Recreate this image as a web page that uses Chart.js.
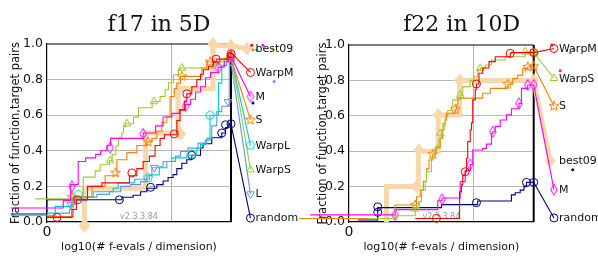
<!DOCTYPE html>
<html>
<head>
<meta charset="utf-8">
<script src="https://cdn.jsdelivr.net/npm/chart.js@4.4.1/dist/chart.umd.min.js"></script>
<style>
  html, body { margin: 0; padding: 0; background: #fff; }
  #wrap { position: relative; width: 598px; height: 256px; overflow: hidden; }
  canvas { position: absolute; top: 0; }
  #c17 { left: 0; }
  #c22 { left: 299px; }
</style>
</head>
<body>
<div id="wrap">
  <canvas id="c17" width="299" height="256" style="width:299px;height:256px"></canvas>
  <canvas id="c22" width="299" height="256" style="width:299px;height:256px"></canvas>
</div>
<script>
// ---------- f17 in 5D : ECDF steps [log10(evals/dim), fraction] ----------
const f17Best09 = [[0.30,-0.02],[0.30,0.19],[0.79,0.50],[1.05,0.75],[1.33,0.99],[1.474,0.99]];
const f17Best09Marks = [[0.30,-0.02],[1.07,0.495],[1.05,0.74],[1.33,1.0],[1.474,0.99]];

const f17WarpM = [[0,0.026],[0.20,0.07],[0.235,0.125],[0.325,0.20],[0.44,0.22],[0.66,0.26],[0.72,0.30],[0.77,0.34],
  [0.82,0.37],[0.866,0.43],[0.906,0.47],[0.94,0.49],[1.04,0.57],[1.066,0.63],[1.10,0.68],[1.12,0.72],[1.16,0.76],
  [1.20,0.80],[1.23,0.83],[1.253,0.855],[1.293,0.875],[1.333,0.90],[1.36,0.915],[1.45,0.95],[1.474,0.95]];
const f17WarpMMarks = [[0.08,0.026],[0.245,0.125],[0.68,0.276],[1.02,0.495],[1.12,0.72],[1.355,0.915],[1.474,0.945]];

const f17M = [[-0.29,0.079],[0.13,0.12],[0.19,0.21],[0.25,0.34],[0.31,0.36],[0.39,0.38],[0.43,0.40],[0.48,0.43],
  [0.51,0.47],[0.77,0.50],[0.87,0.54],[0.93,0.59],[1.0,0.61],[1.06,0.63],[1.11,0.66],[1.15,0.69],[1.19,0.73],
  [1.23,0.76],[1.27,0.81],[1.31,0.84],[1.37,0.87],[1.42,0.90],[1.45,0.93],[1.474,0.93]];
const f17MMarks = [[0.20,0.20],[0.506,0.418],[0.77,0.495],[1.11,0.65],[1.373,0.865],[1.474,0.93]];

const f17S = [[0,0.03],[0.21,0.14],[0.36,0.20],[0.466,0.26],[0.56,0.35],[0.64,0.39],[0.72,0.43],[0.80,0.45],
  [0.84,0.47],[0.88,0.51],[0.92,0.56],[0.96,0.59],[0.986,0.705],[1.02,0.75],[1.04,0.78],[1.07,0.818],[1.24,0.865],
  [1.28,0.90],[1.42,0.92],[1.474,0.92]];
const f17SMarks = [[0.20,0.14],[0.55,0.276],[0.81,0.45],[1.08,0.818],[1.306,0.90],[1.474,0.92]];

const f17WarpL = [[-0.29,0.038],[0.066,0.088],[0.20,0.14],[0.37,0.17],[0.53,0.19],[0.57,0.22],[0.70,0.24],
  [0.82,0.265],[0.90,0.31],[0.93,0.34],[1.0,0.36],[1.12,0.375],[1.20,0.415],[1.23,0.435],[1.27,0.46],[1.306,0.60],
  [1.373,0.78],[1.40,0.88],[1.44,0.93],[1.474,0.93]];
const f17WarpLMarks = [[0.25,0.155],[0.81,0.248],[1.16,0.381],[1.306,0.60],[1.474,0.93]];

const f17WarpS = [[-0.29,0.026],[-0.094,0.13],[0.29,0.252],[0.386,0.287],[0.426,0.322],[0.50,0.345],[0.522,0.379],
  [0.552,0.428],[0.573,0.473],[0.60,0.50],[0.613,0.536],[0.63,0.552],[0.693,0.589],[0.733,0.642],[0.842,0.677],
  [0.906,0.705],[0.946,0.743],[0.973,0.782],[1.013,0.827],[1.053,0.855],[1.067,0.865],[1.33,0.883],[1.386,0.912],
  [1.44,0.94],[1.474,0.94]];
const f17WarpSMarks = [[0.506,0.345],[0.64,0.552],[0.858,0.677],[1.08,0.865],[1.474,0.94]];

const f17L = [[0,0.05],[0.18,0.07],[0.19,0.10],[0.24,0.12],[0.32,0.14],[0.40,0.155],[0.50,0.17],[0.59,0.20],
  [0.67,0.21],[0.75,0.227],[0.80,0.26],[0.84,0.305],[0.96,0.34],[1.03,0.37],[1.07,0.396],[1.13,0.415],[1.21,0.443],
  [1.28,0.47],[1.32,0.54],[1.36,0.62],[1.40,0.65],[1.46,0.90],[1.474,0.90]];
const f17LMarks = [[0.19,0.096],[0.86,0.305],[1.45,0.675],[1.474,0.90]];

const f17Random = [[-0.29,0.045],[0,0.125],[0.60,0.139],[0.69,0.15],[0.75,0.17],[0.80,0.19],[0.88,0.21],[0.93,0.23],
  [0.97,0.25],[1.01,0.266],[1.04,0.30],[1.08,0.33],[1.12,0.35],[1.16,0.375],[1.23,0.416],[1.25,0.44],[1.32,0.473],
  [1.40,0.50],[1.43,0.53],[1.45,0.55],[1.474,0.55]];
const f17RandomMarks = [[0.58,0.125],[0.83,0.195],[1.16,0.375],[1.40,0.50],[1.43,0.546],[1.474,0.552]];

const f17Names = ['best09', 'WarpM', 'M', 'S', 'WarpL', 'WarpS', 'L', 'random'];
const f17LabelY = [0.974, 0.840, 0.705, 0.574, 0.431, 0.294, 0.157, 0.022];
const f17Dots = [[1.64,0.993],[1.73,0.993],[1.65,0.968],[1.68,0.968],[1.81,0.972],[1.82,0.79],[1.65,0.668]];
const f17DotOf = ['WarpM', 'M', 'S', 'WarpL', 'WarpS', 'L', 'random'];

// ---------- f22 in 10D ----------
const f22Best09 = [[0.30,0],[0.30,0.20],[0.555,0.40],[0.714,0.605],[0.886,0.80],[1.478,0.80]];
const f22Best09Marks = [[0.54,0.20],[0.56,0.405],[0.714,0.605],[0.886,0.80],[1.478,0.80]];

const f22WarpM = [[0.53,0.02],[0.885,0.17],[0.90,0.21],[0.91,0.265],[0.93,0.284],[0.94,0.36],[0.95,0.454],
  [0.97,0.52],[0.98,0.56],[0.99,0.69],[1.01,0.75],[1.02,0.78],[1.04,0.84],[1.07,0.87],[1.12,0.906],[1.17,0.934],
  [1.29,0.953],[1.30,0.957],[1.478,0.957]];
const f22WarpMMarks = [[0.70,0.021],[0.93,0.284],[1.02,0.78],[1.29,0.953],[1.478,0.957]];

const f22WarpS = [[0.15,0.02],[0.37,0.035],[0.53,0.08],[0.56,0.115],[0.58,0.18],[0.61,0.228],[0.62,0.284],
  [0.66,0.36],[0.69,0.397],[0.70,0.43],[0.72,0.47],[0.74,0.52],[0.75,0.557],[0.77,0.595],[0.79,0.63],[0.82,0.65],
  [0.83,0.69],[0.89,0.717],[0.91,0.765],[0.97,0.80],[1.00,0.82],[1.03,0.86],[1.05,0.868],[1.09,0.887],[1.14,0.915],
  [1.25,0.934],[1.41,0.962],[1.478,0.957]];
const f22WarpSMarks = [[0.53,0.075],[0.73,0.50],[0.89,0.717],[1.05,0.868],[1.41,0.962],[1.478,0.957]];

const f22S = [[-0.4,0.02],[0.37,0.096],[0.54,0.143],[0.57,0.18],[0.595,0.23],[0.62,0.30],[0.64,0.35],[0.67,0.383],
  [0.69,0.42],[0.73,0.473],[0.75,0.52],[0.76,0.548],[0.77,0.576],[0.78,0.614],[0.85,0.637],[0.86,0.66],[0.87,0.70],
  [1.07,0.727],[1.13,0.755],[1.27,0.778],[1.31,0.81],[1.35,0.83],[1.39,0.868],[1.43,0.876],[1.45,0.88],[1.478,0.88]];
const f22SMarks = [[0.53,0.096],[0.67,0.383],[0.85,0.637],[1.27,0.778],[1.43,0.876],[1.478,0.88]];

const f22M = [[-0.31,0.04],[0.37,0.07],[0.71,0.12],[0.745,0.136],[0.89,0.228],[0.93,0.29],[0.97,0.325],[0.99,0.407],
  [1.07,0.416],[1.10,0.44],[1.14,0.50],[1.15,0.51],[1.17,0.54],[1.21,0.576],[1.26,0.605],[1.30,0.64],[1.36,0.67],
  [1.38,0.755],[1.43,0.774],[1.478,0.775]];
const f22MMarks = [[0.37,0.04],[0.745,0.128],[0.97,0.325],[1.15,0.51],[1.36,0.67],[1.43,0.774],[1.478,0.775]];

const f22Random = [[0.07,0.011],[0.23,0.081],[0.74,0.098],[1.03,0.119],[1.30,0.153],[1.33,0.165],[1.37,0.18],
  [1.40,0.20],[1.42,0.224],[1.478,0.224]];
const f22RandomMarks = [[0.23,0.086],[0.23,0.055],[1.02,0.109],[1.42,0.224],[1.478,0.224]];

const f22Names = ['WarpM', 'WarpS', 'S', 'best09', 'M', 'random'];
const f22LabelY = [0.98, 0.812, 0.655, 0.345, 0.183, 0.023];
const f22Dots = [[1.624,1.0],[1.80,0.975],[1.77,0.956],[1.69,0.855],[1.79,0.295]];
const f22DotOf = ['WarpM', 'S', 'L', 'M', 'random'];

// ---------- styles ----------
const colors = {
  best09: '#f7d8ab', WarpM: '#ff0000', M: '#ff00ff', S: '#ff8000',
  WarpL: '#00cdd0', WarpS: '#9acd32', L: '#6495ed', random: '#000080'
};
const shapes = {
  best09: 'fatDiamond', WarpM: 'circle', M: 'thinDiamond', S: 'star5',
  WarpL: 'pentagon', WarpS: 'triangle', L: 'invTriangle', random: 'circle'
};

// markers the library has no built-in shape for
function markerImage(kind, color) {
  const c = document.createElement('canvas');
  c.width = 16; c.height = 16;
  const g = c.getContext('2d');
  const cx = 8, cy = 8;
  g.strokeStyle = color; g.fillStyle = color; g.lineWidth = 1;
  g.beginPath();
  if (kind === 'star5') {
    for (let i = 0; i < 10; i++) {
      const r = i % 2 ? 2.2 : 5.2;
      const a = -Math.PI / 2 + i * Math.PI / 5;
      const px = cx + r * Math.cos(a), py = cy + r * Math.sin(a);
      i ? g.lineTo(px, py) : g.moveTo(px, py);
    }
  } else if (kind === 'pentagon') {
    for (let i = 0; i < 5; i++) {
      const a = -Math.PI / 2 + i * 2 * Math.PI / 5;
      const px = cx + 4.6 * Math.cos(a), py = cy + 4.6 * Math.sin(a);
      i ? g.lineTo(px, py) : g.moveTo(px, py);
    }
  } else if (kind === 'thinDiamond') {
    g.moveTo(cx, cy - 5.5); g.lineTo(cx + 3.3, cy); g.lineTo(cx, cy + 5.5); g.lineTo(cx - 3.3, cy);
  } else if (kind === 'fatDiamond') {
    g.moveTo(cx, cy - 7); g.lineTo(cx + 5.5, cy); g.lineTo(cx, cy + 7); g.lineTo(cx - 5.5, cy);
  }
  g.closePath();
  if (kind === 'fatDiamond') g.fill(); else g.stroke();
  return c;
}

function pointStyleOf(name) {
  const k = shapes[name];
  if (k === 'circle') return { pointStyle: 'circle', pointRadius: 4, pointRotation: 0 };
  if (k === 'triangle') return { pointStyle: 'triangle', pointRadius: 4.5, pointRotation: 0 };
  if (k === 'invTriangle') return { pointStyle: 'triangle', pointRadius: 4.5, pointRotation: 180 };
  return { pointStyle: markerImage(k, colors[name]), pointRadius: 5, pointRotation: 0 };
}

const xy = arr => arr.map(([x, y]) => ({ x, y }));

function buildDatasets(steps, marks, names, labelY, labelX, dots, dotOf) {
  const ds = [];
  names.forEach((name, i) => {
    const thick = name === 'best09';
    const line = steps[name];
    const last = line[line.length - 1];
    const ord = thick ? 20 : i;
    const col = colors[name];
    const lx = labelX - (thick ? 0.03 : 0);
    ds.push({
      data: xy(line), stepped: 'before', borderColor: col, borderWidth: thick ? 5 : 1.1,
      pointRadius: 0, fill: false, clip: false, order: ord
    });
    ds.push({
      data: xy([last, [lx, labelY[i]]]), borderColor: col, borderWidth: thick ? 5 : 1.1,
      pointRadius: 0, fill: false, clip: false, order: ord
    });
    const ps = pointStyleOf(name);
    ds.push({
      data: xy(marks[name].concat([[lx, labelY[i]]])), showLine: false, clip: false, order: ord,
      pointStyle: ps.pointStyle, pointRadius: ps.pointRadius, pointRotation: ps.pointRotation,
      pointBorderColor: col, pointBackgroundColor: 'rgba(0,0,0,0)', pointBorderWidth: 1
    });
  });
  ds.push({
    data: xy(dots), showLine: false, clip: false, order: -1, pointRadius: 1.5, pointBorderWidth: 0,
    pointBackgroundColor: dotOf.map(n => colors[n]), pointStyle: 'circle'
  });
  return ds;
}

// the library skips points outside the plot box; draw those too
const outsidePoints = {
  id: 'outsidePoints',
  afterDatasetDraw(chart, args) {
    const a = chart.chartArea;
    const big = { left: -1e4, top: -1e4, right: 1e4, bottom: 1e4 };
    args.meta.data.forEach(pt => {
      if (pt.x < a.left - 1 || pt.x > a.right + 1 || pt.y < a.top - 1 || pt.y > a.bottom + 1) {
        pt.draw(chart.ctx, big);
      }
    });
  }
};

// text drawn on the canvas: title, labels at the right, version tag, full frame
const decorations = {
  id: 'decorations',
  beforeDatasetsDraw(chart) {
    const { ctx, chartArea: a } = chart;
    ctx.save();
    ctx.strokeStyle = '#000';
    ctx.lineWidth = 1.2;
    ctx.beginPath();
    ctx.moveTo(a.left, a.top); ctx.lineTo(a.right, a.top);
    ctx.stroke();
    ctx.lineWidth = 2;
    ctx.beginPath();
    ctx.moveTo(a.right, a.top); ctx.lineTo(a.right, a.bottom);
    ctx.stroke();
    ctx.fillStyle = '#9a9a9a';
    ctx.font = '8px "DejaVu Sans"';
    ctx.textAlign = 'center';
    ctx.textBaseline = 'middle';
    ctx.fillText('v2.3.3.84', (a.left + a.right) / 2, a.bottom - 5.5);
    ctx.restore();
  },
  afterDraw(chart, args, opts) {
    const { ctx, chartArea: a, scales } = chart;
    ctx.save();
    ctx.fillStyle = '#111';
    ctx.font = '22px "DejaVu Serif"';
    ctx.textAlign = 'center';
    ctx.textBaseline = 'alphabetic';
    ctx.fillText(opts.title, a.right - 72, 31);
    ctx.font = '11px "DejaVu Sans"';
    ctx.textAlign = 'left';
    ctx.textBaseline = 'middle';
    opts.names.forEach((n, i) => {
      ctx.fillText(n, scales.x.getPixelForValue(opts.labelX) + 5, scales.y.getPixelForValue(opts.labelY[i]) + 0.5);
    });
    ctx.restore();
  }
};

function scalesFor(xmax, yAxisW, yTitlePad) {
  return {
    x: {
      type: 'linear', min: 0, max: xmax,
      afterFit: s => { s.height = 34; },
      afterBuildTicks: s => { s.ticks = [{ value: 0 }, { value: 1 }]; },
      ticks: { callback: v => (v === 0 ? '0' : ''), font: { family: 'DejaVu Sans', size: 14 }, color: '#111',
               padding: 2, maxRotation: 0, autoSkip: false },
      grid: { drawTicks: false, lineWidth: 1,
              color: c => (c.tick && c.tick.value === 1 ? '#b8b8b8' : 'rgba(0,0,0,0)') },
      border: { color: '#000', width: 1.2 },
      title: { display: true, text: 'log10(# f-evals / dimension)', color: '#111',
               font: { family: 'DejaVu Sans', size: 11 }, padding: { top: 0, bottom: 2 } }
    },
    y: {
      type: 'linear', min: 0, max: 1,
      afterFit: s => { s.width = yAxisW; },
      ticks: { stepSize: 0.2, callback: v => v.toFixed(1), font: { family: 'DejaVu Sans', size: 12.5 },
               color: '#111', padding: 4 },
      grid: { drawTicks: false, lineWidth: 1,
              color: c => (c.tick && c.tick.value > 0.01 && c.tick.value < 0.99 ? '#b8b8b8' : 'rgba(0,0,0,0)') },
      border: { color: '#000', width: 1.2 },
      title: { display: true, text: 'Fraction of function,target pairs', color: '#111',
               font: { family: 'DejaVu Sans', size: 11.5 }, padding: { top: yTitlePad, bottom: 0 } }
    }
  };
}

function makeChart(id, title, steps, marks, names, labelY, labelX, dots, dotOf, xmax, yAxisW, yTitlePad, pad) {
  return new Chart(document.getElementById(id), {
    type: 'line',
    data: { datasets: buildDatasets(steps, marks, names, labelY, labelX, dots, dotOf) },
    options: {
      responsive: false, animation: false,
      layout: { padding: pad },
      plugins: {
        legend: { display: false }, tooltip: { enabled: false },
        decorations: { title, names, labelY, labelX }
      },
      scales: scalesFor(xmax, yAxisW, yTitlePad)
    },
    plugins: [decorations, outsidePoints]
  });
}

makeChart('c17', 'f17 in 5D',
  { best09: f17Best09, WarpM: f17WarpM, M: f17M, S: f17S, WarpL: f17WarpL, WarpS: f17WarpS, L: f17L, random: f17Random },
  { best09: f17Best09Marks, WarpM: f17WarpMMarks, M: f17MMarks, S: f17SMarks, WarpL: f17WarpLMarks,
    WarpS: f17WarpSMarks, L: f17LMarks, random: f17RandomMarks },
  f17Names, f17LabelY, 1.63, f17Dots, f17DotOf, 1.474, 47, 9.5,
  { left: 0, right: 68, top: 44, bottom: 0 });

makeChart('c22', 'f22 in 10D',
  { best09: f22Best09, WarpM: f22WarpM, WarpS: f22WarpS, S: f22S, M: f22M, random: f22Random },
  { best09: f22Best09Marks, WarpM: f22WarpMMarks, WarpS: f22WarpSMarks, S: f22SMarks, M: f22MMarks,
    random: f22RandomMarks },
  f22Names, f22LabelY, 1.64, f22Dots, f22DotOf, 1.478, 50, 17,
  { left: 0, right: 64.3, top: 45, bottom: 0 });
</script>
</body>
</html>
